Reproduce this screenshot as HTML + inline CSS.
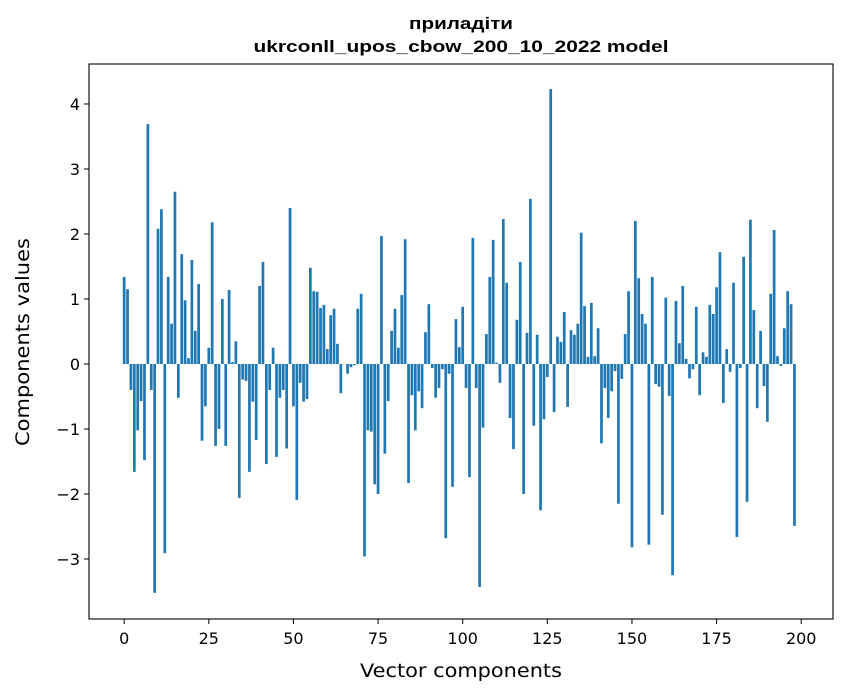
<!DOCTYPE html>
<html><head><meta charset="utf-8"><style>
html,body{margin:0;padding:0;background:#fff;}
svg{display:block;font-family:"DejaVu Sans","Liberation Sans",sans-serif;}
</style></head><body>
<svg id="chart" width="847" height="696" viewBox="0 0 847 696">
<rect x="0" y="0" width="847" height="696" fill="#fff"/>
<text x="461" y="29" text-anchor="middle" font-family="Liberation Sans, sans-serif" font-weight="bold" font-size="17" textLength="104" lengthAdjust="spacingAndGlyphs">приладіти</text>
<text x="461" y="52" text-anchor="middle" font-family="Liberation Sans, sans-serif" font-weight="bold" font-size="17" textLength="415" lengthAdjust="spacingAndGlyphs">ukrconll_upos_cbow_200_10_2022 model</text>
<g id="bars"></g>
<g id="xticks"></g>
<g id="yticks"></g>
<rect x="89" y="64" width="744" height="555" fill="none" stroke="#000" stroke-width="1.1"/>
<text x="461" y="677" text-anchor="middle" font-size="19" textLength="202" lengthAdjust="spacingAndGlyphs">Vector components</text>
<text transform="translate(29,342) rotate(-90)" text-anchor="middle" font-size="19" textLength="208" lengthAdjust="spacingAndGlyphs">Components values</text>
</svg>
<script>
const values = [1.34,1.15,-0.40,-1.66,-1.02,-0.57,-1.48,3.69,-0.40,-3.52,
2.08,2.38,-2.91,1.34,0.62,2.65,-0.52,1.69,0.98,0.09,
1.60,0.51,1.23,-1.18,-0.65,0.25,2.18,-1.26,-1.00,1.00,
-1.26,1.14,0.03,0.35,-2.06,-0.24,-0.26,-1.66,-0.58,-1.17,
1.20,1.57,-1.54,-0.40,0.25,-1.43,-0.52,-0.40,-1.30,2.40,
-0.65,-2.09,-0.29,-0.58,-0.54,1.48,1.12,1.11,0.86,0.91,
0.23,0.75,0.85,0.31,-0.45,0.00,-0.15,-0.05,-0.02,0.85,
1.08,-2.96,-1.02,-1.04,-1.85,-2.00,1.97,-1.38,-0.57,0.51,
0.85,0.25,1.06,1.92,-1.83,-0.48,-1.02,-0.42,-0.68,0.49,
0.92,-0.06,-0.52,-0.37,-0.08,-2.68,-0.15,-1.89,0.69,0.26,
0.88,-0.37,-1.74,1.94,-0.37,-3.43,-0.98,0.46,1.34,1.91,
0.02,-0.29,2.23,1.25,-0.83,-1.31,0.68,1.57,-2.00,0.48,
2.54,-0.95,0.45,-2.25,-0.85,-0.20,4.23,-0.74,0.42,0.34,
0.80,-0.66,0.52,0.45,0.62,2.02,0.89,0.11,0.94,0.12,
0.55,-1.22,-0.37,-0.83,-0.42,-0.11,-2.15,-0.23,0.46,1.12,
-2.82,2.20,1.32,0.77,0.62,-2.78,1.34,-0.31,-0.35,-2.32,
1.02,-0.49,-3.25,0.97,0.32,1.20,0.08,-0.22,-0.08,0.88,
-0.48,0.18,0.11,0.91,0.77,1.18,1.72,-0.60,0.23,-0.12,
1.25,-2.66,-0.06,1.65,-2.12,2.22,0.83,-0.68,0.51,-0.34,
-0.89,1.08,2.06,0.12,-0.03,0.55,1.12,0.92,-2.49];
const xTickLabels = [0,25,50,75,100,125,150,175,200];
const yTickLabels = [-3,-2,-1,0,1,2,3,4];

const NS = "http://www.w3.org/2000/svg";
const X0=89, X1=833, Y0=64, Y1=619;
const xMin=-10.39, xMax=209.39, yMin=-3.923, yMax=4.615;
function xs(v){return X0+(v-xMin)/(xMax-xMin)*(X1-X0);}
function ys(v){return Y1-(v-yMin)/(yMax-yMin)*(Y1-Y0);}

const gb=document.getElementById('bars');
values.forEach((v,i)=>{
  const r=document.createElementNS(NS,'rect');
  const xl=xs(i-0.4), xr=xs(i+0.4);
  const yt=ys(Math.max(v,0)), yb=ys(Math.min(v,0));
  r.setAttribute('x',xl); r.setAttribute('width',xr-xl);
  r.setAttribute('y',yt); r.setAttribute('height',Math.max(yb-yt,0));
  r.setAttribute('fill','#1f77b4');
  
  
  gb.appendChild(r);
});
const gx=document.getElementById('xticks');
xTickLabels.forEach(t=>{
  const x=xs(t);
  const l=document.createElementNS(NS,'line');
  l.setAttribute('x1',x);l.setAttribute('x2',x);l.setAttribute('y1',Y1);l.setAttribute('y2',Y1+5);
  l.setAttribute('stroke','#000');
  
  
  gx.appendChild(l);
  const tx=document.createElementNS(NS,'text');
  tx.setAttribute('x',x);tx.setAttribute('y',Y1+25);tx.setAttribute('text-anchor','middle');tx.setAttribute('font-size','16');
  tx.textContent=t;
  
  
  gx.appendChild(tx);
});
const gy=document.getElementById('yticks');
yTickLabels.forEach(t=>{
  const y=ys(t);
  const l=document.createElementNS(NS,'line');
  l.setAttribute('x1',X0-5);l.setAttribute('x2',X0);l.setAttribute('y1',y);l.setAttribute('y2',y);
  l.setAttribute('stroke','#000');
  
  
  gy.appendChild(l);
  const tx=document.createElementNS(NS,'text');
  tx.setAttribute('x',X0-9);tx.setAttribute('y',y+6);tx.setAttribute('text-anchor','end');tx.setAttribute('font-size','16');
  tx.textContent=t<0?'\u2212'+Math.abs(t):t;
  
  
  gy.appendChild(tx);
});
</script>
</body></html>
